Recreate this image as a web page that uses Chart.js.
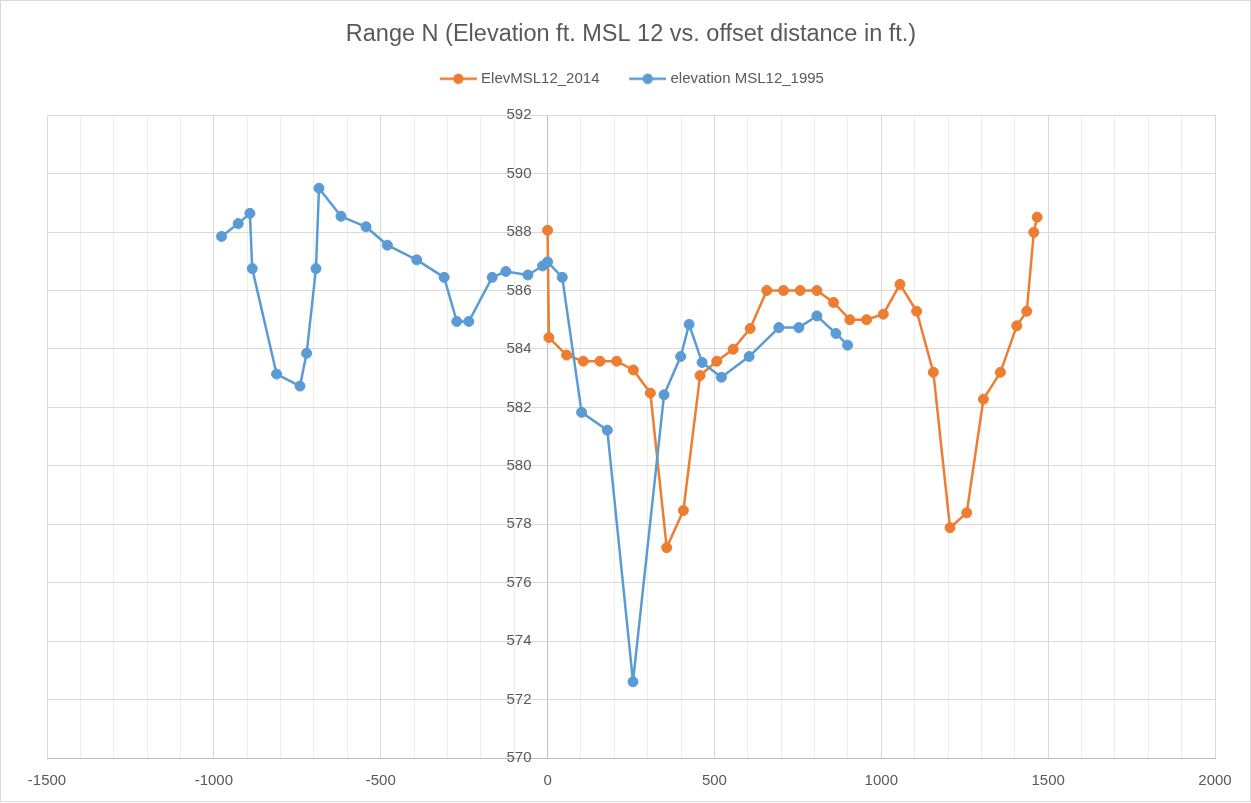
<!DOCTYPE html>
<html>
<head>
<meta charset="utf-8">
<script src="https://cdn.jsdelivr.net/npm/chart.js@4/dist/chart.umd.min.js"></script>
<style>
  html, body { margin: 0; padding: 0; background: #fff; }
  #wrap { width: 1251px; height: 803px; }
</style>
</head>
<body>
<div id="wrap"><canvas id="grafico" width="1251" height="803"></canvas></div>
<script>
// offset distance (ft) and elevation (ft MSL 12) for each survey
const offset2014 = [0, 4, 57, 107, 157, 207, 257, 308, 357, 407, 457, 507, 556, 607, 657, 707, 757, 807, 857, 906, 956, 1006, 1056, 1106, 1156, 1206, 1256, 1306, 1357, 1406, 1436, 1457, 1467];
const elev2014 = [588.06, 584.39, 583.79, 583.58, 583.58, 583.58, 583.28, 582.49, 577.2, 578.47, 583.09, 583.58, 583.99, 584.7, 586.0, 586.0, 586.0, 586.0, 585.59, 585.0, 585.0, 585.19, 586.21, 585.29, 583.2, 577.88, 578.39, 582.28, 583.2, 584.79, 585.29, 587.99, 588.51];

const offset1995 = [-977, -927, -892, -885, -812, -742, -722, -694, -685, -619, -544, -480, -392, -310, -272, -236, -166, -125, -59, -15, 0, 44, 102, 179, 256, 349, 399, 424, 463, 521, 604, 693, 753, 807, 864, 899];
const elev1995 = [587.85, 588.29, 588.64, 586.75, 583.14, 582.73, 583.85, 586.75, 589.5, 588.54, 588.18, 587.55, 587.05, 586.45, 584.94, 584.94, 586.45, 586.65, 586.53, 586.84, 586.98, 586.45, 581.83, 581.22, 572.61, 582.43, 583.74, 584.84, 583.54, 583.03, 583.74, 584.73, 584.73, 585.13, 584.53, 584.13];

const seriesNames = ['ElevMSL12_2014', 'elevation MSL12_1995'];
const seriesColors = ['#ED7D31', '#5B9BD5'];

const xMin = -1500, xMax = 2000, xMajor = 500, xMinor = 100;
const yMin = 570, yMax = 592, yStep = 2;
// y labels sit just left of the x = 0 line, so the axis is anchored a little to the left
const yLabelAt = -48;

const txt = '#595959';
const fam = '"Liberation Sans", Arial, sans-serif';

const toPoints = (xs, ys) => xs.map((x, i) => ({x: x, y: ys[i]}));
const isMajor = v => Math.abs(v % xMajor) < 1e-6;

// little line-with-dot swatch for the legend
const swatch = (color) => {
  const c = document.createElement('canvas');
  const pad = 23;
  c.width = 37 + pad; c.height = 12;
  const g = c.getContext('2d');
  g.strokeStyle = color;
  g.lineWidth = 2.5;
  g.beginPath(); g.moveTo(pad, 6); g.lineTo(pad + 37, 6); g.stroke();
  g.fillStyle = color;
  g.beginPath(); g.arc(pad + 18.5, 6, 5.2, 0, Math.PI * 2); g.fill();
  return c;
};

const fondo = {
  id: 'fondo',
  beforeDraw(chart) {
    const ctx = chart.ctx;
    ctx.save();
    ctx.fillStyle = '#fff';
    ctx.fillRect(0, 0, chart.width, chart.height);
    ctx.strokeStyle = '#d9d9d9';
    ctx.lineWidth = 1;
    ctx.strokeRect(0.5, 0.5, chart.width - 1, chart.height - 2);
    ctx.restore();
  }
};

// more room under the legend, and nudge it left a touch
const espacio = {
  id: 'espacio',
  afterInit(chart) {
    const lg = chart.legend;
    if (!lg) return;
    const fit = lg.fit;
    lg.fit = function () { fit.call(this); this.height += 19; };
  },
  afterLayout(chart) {
    const lg = chart.legend;
    if (!lg) return;
    lg.left -= 9;
    lg.right -= 9;
  }
};

const ds = (i, xs, ys) => ({
  label: seriesNames[i],
  data: toPoints(xs, ys),
  showLine: true,
  borderColor: seriesColors[i],
  backgroundColor: seriesColors[i],
  borderWidth: 2.5,
  borderJoinStyle: 'round',
  pointRadius: 5,
  pointBorderWidth: 1,
  pointHoverRadius: 5,
  tension: 0,
  order: i === 0 ? 1 : 0
});

const ctx = document.getElementById('grafico').getContext('2d');
new Chart(ctx, {
  type: 'scatter',
  data: {
    datasets: [ds(0, offset2014, elev2014), ds(1, offset1995, elev1995)]
  },
  options: {
    responsive: false,
    animation: false,
    layout: { padding: { left: 47, right: 36, top: 0, bottom: 0 } },
    plugins: {
      tooltip: { enabled: false },
      title: {
        display: true,
        text: 'Range N (Elevation ft. MSL 12 vs. offset distance in ft.)',
        color: txt,
        font: { family: fam, size: 23.5, weight: 'normal' },
        padding: { top: 20, bottom: 13 }
      },
      legend: {
        display: true,
        position: 'top',
        labels: {
          color: txt,
          font: { family: fam, size: 15 },
          usePointStyle: true,
          pointStyleWidth: 53.5,
          padding: 10,
          generateLabels(chart) {
            const items = Chart.defaults.plugins.legend.labels.generateLabels(chart);
            items.sort((a, b) => a.datasetIndex - b.datasetIndex);
            items.forEach(it => {
              it.pointStyle = swatch(seriesColors[it.datasetIndex]);
            });
            return items;
          }
        }
      }
    },
    scales: {
      x: {
        type: 'linear',
        position: 'bottom',
        min: xMin,
        max: xMax,
        afterFit(s) { s.height = 45; },
        ticks: {
          stepSize: xMinor,
          autoSkip: false,
          maxRotation: 0,
          padding: 14,
          color: txt,
          font: { family: fam, size: 15 },
          callback: v => (isMajor(v) ? String(v) : '')
        },
        grid: {
          drawTicks: false,
          // the x = 0 line doubles as the vertical axis
          color: c => (c.tick.value === 0 ? '#bfbfbf' : isMajor(c.tick.value) ? '#d9d9d9' : '#eeeeee'),
          lineWidth: 1
        },
        border: { display: true, color: '#bfbfbf', width: 1 }
      },
      y: {
        type: 'linear',
        position: { x: yLabelAt },
        min: yMin,
        max: yMax,
        ticks: {
          stepSize: yStep,
          color: txt,
          font: { family: fam, size: 15 }
        },
        grid: { drawTicks: false, color: '#d9d9d9', lineWidth: 1 },
        border: { display: false }
      }
    }
  },
  plugins: [fondo, espacio]
});
</script>
</body>
</html>
